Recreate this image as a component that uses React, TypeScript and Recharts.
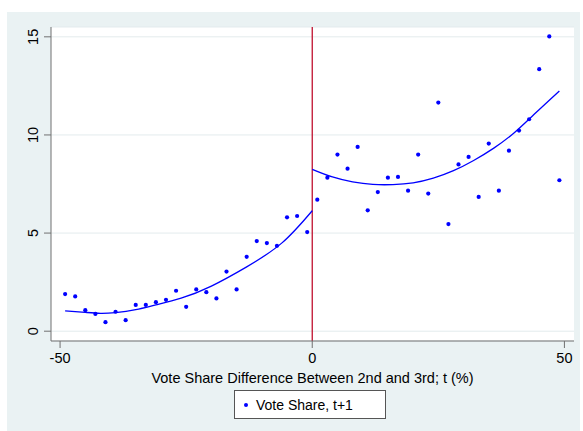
import React from 'react';
import { ComposedChart, Scatter, Line, XAxis, YAxis, CartesianGrid, ReferenceLine } from 'recharts';

// binned means
const leftBins = [-49, -47, -45, -43, -41, -39, -37, -35, -33, -31, -29, -27, -25, -23, -21, -19, -17, -15, -13, -11, -9, -7, -5, -3, -1];
const leftShare = [1.89, 1.77, 1.07, 0.88, 0.46, 0.99, 0.56, 1.34, 1.34, 1.48, 1.6, 2.06, 1.24, 2.13, 1.99, 1.67, 3.04, 2.13, 3.79, 4.59, 4.49, 4.35, 5.8, 5.87, 5.05];
const rightBins = [1, 3, 5, 7, 9, 11, 13, 15, 17, 19, 21, 23, 25, 27, 29, 31, 33, 35, 37, 39, 41, 43, 45, 47, 49];
const rightShare = [6.7, 7.82, 9.0, 8.28, 9.39, 6.16, 7.09, 7.82, 7.86, 7.16, 9.0, 7.01, 11.65, 5.46, 8.5, 8.88, 6.84, 9.56, 7.16, 9.2, 10.22, 10.8, 13.35, 15.02, 7.69];

// fitted curves
const leftFitX = [-49, -45, -42, -39, -35, -31, -26, -20, -13, -6, 0];
const leftFitY = [1.04, 0.96, 0.91, 0.95, 1.1, 1.34, 1.68, 2.3, 3.28, 4.5, 6.14];
const rightFitX = [0, 4, 8, 12, 16, 20, 24, 28, 32, 36, 40, 44, 49];
const rightFitY = [8.25, 7.86, 7.61, 7.48, 7.47, 7.56, 7.8, 8.18, 8.7, 9.33, 10.1, 11.05, 12.24];

const xTicks = [-50, 0, 50];
const yTicks = [0, 5, 10, 15];

const points = [
  ...leftBins.map((x, i) => ({ x, y: leftShare[i] })),
  ...rightBins.map((x, i) => ({ x, y: rightShare[i] })),
];
const leftFit = leftFitX.map((x, i) => ({ x, y: leftFitY[i] }));
const rightFit = rightFitX.map((x, i) => ({ x, y: rightFitY[i] }));

const BLUE = '#0000ff';
const FONT = '"Liberation Sans", Arial, sans-serif';
const AXIS = '#707070';

const Dot = (props: any) => <circle cx={props.cx} cy={props.cy} r={2.1} fill={BLUE} />;

const YTick = (props: any) => {
  const { x, y, payload } = props;
  const tx = x - 4;
  return (
    <text x={tx} y={y} textAnchor="middle" transform={`rotate(-90, ${tx}, ${y})`} fontSize={14.5} fontFamily={FONT} fill="#000">
      {payload.value}
    </text>
  );
};

export default function App() {
  return (
    <div style={{ position: 'absolute', left: 0, top: 0, width: 583, height: 431, background: '#fff', fontFamily: FONT }}>
      <div style={{ position: 'absolute', left: 7, top: 12, width: 573, height: 419, background: '#eaf2f3' }} />
      <ComposedChart
        width={583}
        height={431}
        data={points}
        margin={{ top: 27, right: 9, left: 7, bottom: 60 }}
        style={{ position: 'absolute', left: 0, top: 0 }}
      >
        <CartesianGrid vertical={false} stroke="#e3ebed" fill="#ffffff" />
        <XAxis
          type="number"
          dataKey="x"
          domain={[-51.8, 51.9]}
          ticks={xTicks}
          height={30}
          tickSize={7}
          tickMargin={5}
          stroke={AXIS}
          tick={{ fontSize: 14.5, fill: '#000', fontFamily: FONT }}
          label={{ value: 'Vote Share Difference Between 2nd and 3rd; t (%)', position: 'bottom', offset: 2, fontSize: 14.5, fill: '#000', fontFamily: FONT }}
        />
        <YAxis
          type="number"
          dataKey="y"
          domain={[-0.5, 15.5]}
          ticks={yTicks}
          width={44}
          tickSize={7}
          tickMargin={2}
          stroke={AXIS}
          tick={<YTick />}
        />
        <ReferenceLine x={0} stroke="#c0102e" strokeWidth={1.3} />
        <Scatter data={points} dataKey="y" shape={<Dot />} isAnimationActive={false} />
        <Line data={leftFit} dataKey="y" type="natural" stroke={BLUE} strokeWidth={1.3} dot={false} activeDot={false} isAnimationActive={false} />
        <Line data={rightFit} dataKey="y" type="natural" stroke={BLUE} strokeWidth={1.3} dot={false} activeDot={false} isAnimationActive={false} />
      </ComposedChart>
      <div
        style={{
          position: 'absolute', left: 234, top: 390, width: 152, height: 29,
          background: '#fff', border: '1px solid #555', boxSizing: 'border-box',
          display: 'flex', alignItems: 'center', fontSize: 14, color: '#000',
        }}
      >
        <span style={{ display: 'inline-block', width: 4, height: 4, borderRadius: 2, background: BLUE, marginLeft: 9, marginRight: 8 }} />
        Vote Share, t+1
      </div>
    </div>
  );
}
